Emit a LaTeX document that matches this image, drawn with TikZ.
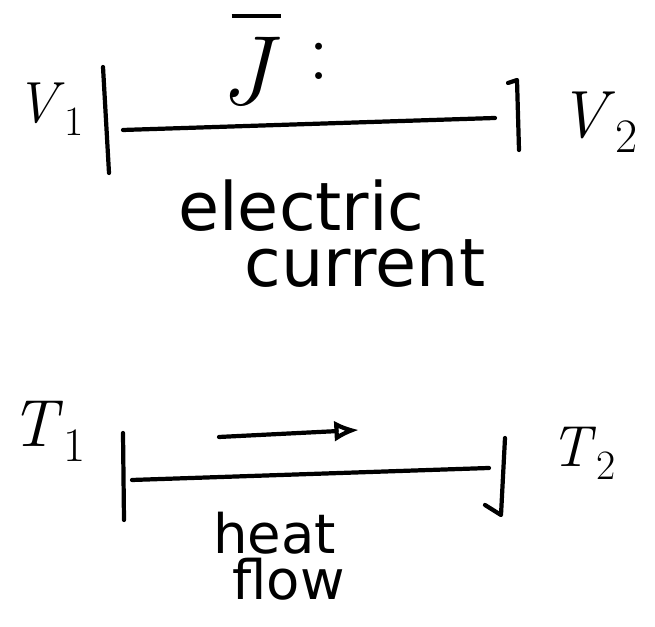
\documentclass[tikz,border=0pt]{standalone}
\usepackage{fontspec}
\usepackage{xcolor}
\usepackage{tikz}
\usetikzlibrary{calc,arrows.meta}
\newfontfamily\handfont{DejaVu Sans}
\definecolor{SketchInk}{HTML}{000000}
\newcommand{\PotLabel}{\fontsize{33}{38}\selectfont}
\newcommand{\PotLabelWide}{\fontsize{38}{44}\selectfont}
\newcommand{\FluxLabel}{\fontsize{56}{60}\selectfont}
\newcommand{\ColonLabel}{\fontsize{48}{52}\selectfont}
\newcommand{\KindLabel}{\handfont\fontsize{38}{32.4}\selectfont}
\newcommand{\SmallKind}{\handfont\fontsize{31}{26.7}\selectfont}
% italic letter with a lowered index
\newcommand{\potsym}[2]{\textit{#1}\raisebox{-0.22em}{\scalebox{0.72}{#2}}}
% italic letter with a bar high above it
\newcommand{\barsym}[1]{\ooalign{\textit{#1}\cr\hidewidth\kern0.12em\raisebox{0.88em}{\rule{0.5em}{0.045em}}\hidewidth\cr}}
\tikzset{
  ink stroke/.style={draw=SketchInk,line width=2.4pt,line cap=round,line join=round},
  pot label/.style={anchor=base west,inner sep=0pt,text=SketchInk,font=\PotLabel},
  kind label/.style={anchor=base west,inner sep=0pt,align=left,text=SketchInk,font=\KindLabel}
}

\begin{document}
\begin{tikzpicture}[x=1cm,y=1cm]
  % 655 x 627 px at 0.02 cm per px
  \path[use as bounding box] (0,0) rectangle (13.10,12.54);

  % electric conductor
  \node[pot label] (vone) at (0.30,10.08) {\potsym{V}{1}};
  \node[pot label,font=\PotLabelWide] (vtwo) at (11.16,9.78) {\potsym{V}{2}};
  \node[pot label,font=\FluxLabel] (jbar) at (4.40,10.44) {\barsym{J}};
  \node[pot label,font=\ColonLabel] (jcolon) at (6.16,10.94) {:};
  \coordinate (elecLtop) at (2.06,11.20);
  \coordinate (elecLbot) at (2.18,9.08);
  \coordinate (elecRhook) at (10.16,10.88);
  \coordinate (elecRtop) at (10.34,10.94);
  \coordinate (elecRbot) at (10.38,9.54);
  \coordinate (elecA) at (2.46,9.94);
  \coordinate (elecB) at (9.90,10.18);
  \draw[ink stroke] (elecLtop) -- (elecLbot);
  \draw[ink stroke] (elecRhook) -- (elecRtop) -- (elecRbot);
  \draw[ink stroke] (elecA) -- (elecB);
  \node[kind label] (elecname) at (3.56,6.80)
    {electric\\\hspace*{1.32cm}current};

  % heat conductor
  \node[pot label,font=\PotLabelWide] (tone) at (0.20,3.60) {\potsym{T}{1}};
  \node[pot label] (ttwo) at (11.00,3.20) {\potsym{T}{2}};
  \coordinate (heatLtop) at (2.46,3.88);
  \coordinate (heatLbot) at (2.48,2.14);
  \coordinate (heatRtop) at (10.10,3.78);
  \coordinate (heatRbot) at (10.02,2.24);
  \coordinate (heatRhook) at (9.70,2.44);
  \coordinate (heatA) at (2.64,2.94);
  \coordinate (heatB) at (9.78,3.18);
  \coordinate (flowA) at (4.38,3.80);
  \coordinate (flowB) at (7.18,3.94);
  \draw[ink stroke] (heatLtop) -- (heatLbot);
  \draw[ink stroke] (heatRtop) -- (heatRbot) -- (heatRhook);
  \draw[ink stroke] (heatA) -- (heatB);
  \draw[ink stroke,-{Latex[open,length=14pt,width=12pt]}] (flowA) -- (flowB);
  \node[kind label,font=\SmallKind] (heatname) at (4.26,0.54)
    {heat\\\hspace*{0.38cm}flow};
\end{tikzpicture}
\end{document}
